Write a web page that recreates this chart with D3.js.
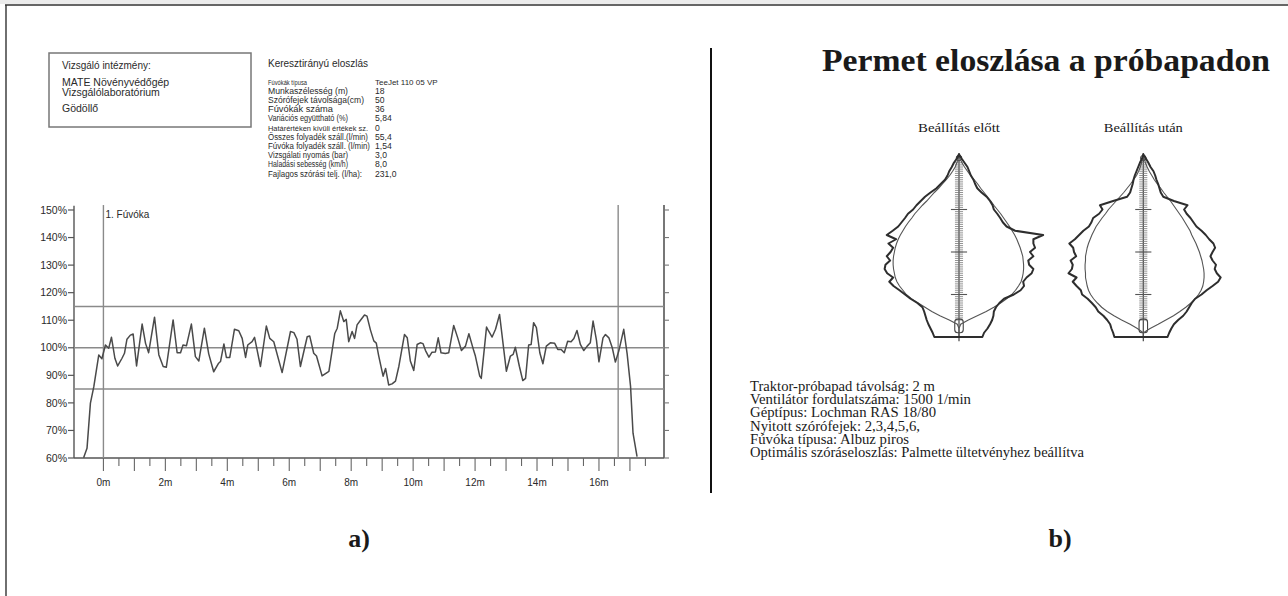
<!DOCTYPE html>
<html lang="hu">
<head>
<meta charset="UTF-8">
<title>Permet eloszlása</title>
<script src="https://cdnjs.cloudflare.com/ajax/libs/d3/7.8.5/d3.min.js"></script>
<style>
  body { margin: 0; background: #fff; }
  svg text { font-family: "Liberation Sans", Arial, sans-serif; fill: #2a2a2a; }
  svg text.serif { font-family: "Liberation Serif", "Times New Roman", serif; fill: #1a1a1a; }
</style>
</head>
<body>
<svg id="chart" width="1288" height="596"></svg>
<script>
// ---- a) cross distribution (m, %) ----
const distPos = [-0.64, -0.53, -0.42, -0.31, -0.15, -0.05, 0.065, 0.17, 0.26, 0.37, 0.46, 0.60, 0.68, 0.76, 0.87, 0.96,
  1.07, 1.25, 1.36, 1.46, 1.65, 1.79, 1.93, 2.03, 2.25, 2.38, 2.49, 2.57, 2.68, 2.84, 2.97, 3.08, 3.26, 3.40, 3.56,
  3.72, 3.78, 3.89, 3.97, 4.08, 4.23, 4.37, 4.48, 4.59, 4.66, 4.80, 4.88, 5.07, 5.26, 5.37, 5.50, 5.77, 6.04, 6.15,
  6.25, 6.36, 6.58, 6.66, 6.79, 6.88, 7.06, 7.22, 7.28, 7.47, 7.55, 7.65, 7.76, 7.84, 7.92, 8.03, 8.11, 8.19, 8.30,
  8.43, 8.51, 8.62, 8.73, 8.81, 8.89, 9.03, 9.11, 9.21, 9.32, 9.43, 9.54, 9.72, 9.81, 9.91, 10.02, 10.13, 10.23,
  10.32, 10.40, 10.51, 10.61, 10.72, 10.81, 10.90, 11.04, 11.15, 11.31, 11.44, 11.56, 11.69, 11.80, 11.96, 12.01,
  12.15, 12.20, 12.37, 12.44, 12.55, 12.66, 12.79, 13.01, 13.14, 13.23, 13.30, 13.43, 13.54, 13.63, 13.73, 13.81,
  13.89, 13.98, 14.09, 14.19, 14.30, 14.43, 14.57, 14.67, 14.78, 14.88, 14.99, 15.10, 15.19, 15.29, 15.40, 15.51,
  15.62, 15.72, 15.81, 15.92, 16.00, 16.13, 16.21, 16.32, 16.43, 16.53, 16.64, 16.80, 16.91, 17.02, 17.10, 17.23];
const distPct = [60.1, 63.5, 79.9, 85.9, 97.4, 96.0, 101.0, 99.8, 103.8, 96.2, 93.4, 96.2, 98.0, 103.1, 104.6, 105.0,
  93.4, 108.6, 101.6, 98.2, 111.1, 97.4, 93.2, 92.9, 110.1, 98.2, 98.2, 101.0, 100.7, 108.6, 96.8, 95.2, 107.1, 97.8, 91.3,
  94.4, 95.0, 101.4, 96.5, 96.5, 106.7, 106.2, 103.4, 96.5, 101.0, 102.2, 103.8, 93.2, 107.9, 103.4, 102.2, 91.0, 105.9, 105.5,
  103.1, 93.2, 104.0, 104.3, 98.0, 97.0, 89.8, 91.0, 91.4, 105.2, 107.1, 113.4, 109.5, 110.3, 102.2, 105.9, 103.4, 108.3, 110.0,
  111.9, 111.5, 106.5, 102.5, 101.7, 97.0, 89.7, 92.5, 86.5, 86.9, 87.9, 93.3, 104.8, 103.6, 95.2, 91.8, 101.2, 101.8,
  101.5, 99.0, 96.6, 98.4, 98.5, 103.6, 98.2, 97.9, 98.2, 108.1, 103.6, 99.0, 100.6, 105.1, 98.8, 97.0,
  89.7, 88.9, 107.5, 106.0, 103.9, 106.7, 112.1, 91.5, 97.0, 97.6, 100.2, 93.3, 88.1, 88.9, 101.0, 101.2,
  109.1, 107.3, 98.2, 94.2, 100.6, 101.8, 101.6, 99.4, 99.4, 98.2, 102.4, 102.2, 103.4, 106.3, 101.2, 99.0,
  100.6, 101.8, 109.7, 102.7, 94.9, 103.6, 104.8, 103.6, 100.0, 94.8, 98.8, 106.7, 97.8, 86.0, 69.0, 60.5];
const yTicks = [60, 70, 80, 90, 100, 110, 120, 130, 140, 150];
const xLabelTicks = [0, 2, 4, 6, 8, 10, 12, 14, 16];
const refLines = [115, 100, 85];
const markerPos = [0, 16.62];
const markerLabel = "1. Fúvóka";

const instituteLines = ["Vizsgáló intézmény:", "MATE Növényvédőgép", "Vizsgálólaboratórium", "Gödöllő"];
const tableTitle = "Keresztirányú eloszlás";
const infoLabels = ["Fúvókák típusa", "Munkaszélesség (m)", "Szórófejek távolsága(cm)", "Fúvókák száma",
  "Variációs együttható (%)", "Határértéken kívüli értékek sz.", "Összes folyadék száll.(l/min)",
  "Fúvóka folyadék száll. (l/min)", "Vizsgálati nyomás (bar)", "Haladási sebesség (km/h)", "Fajlagos szórási telj. (l/ha):"];
const infoValues = ["TeeJet 110 05 VP", "18", "50", "36", "5,84", "0", "55,4", "1,54", "3,0", "8,0", "231,0"];

// ---- b) vertical spray profiles (height m, offset from axis) ----
const rightTitle = "Permet eloszlása a próbapadon";
const profileNames = ["Beállítás előtt", "Beállítás után"];
const levels = [0.0, 0.1, 0.2, 0.3, 0.4, 0.5, 0.6, 0.7, 0.8, 0.9, 1.0, 1.1, 1.2, 1.3, 1.4, 1.5, 1.6, 1.7, 1.8, 1.9, 2.0, 2.1,
  2.2, 2.3, 2.4, 2.5, 2.6, 2.7, 2.8, 2.9, 3.0, 3.1, 3.2, 3.3, 3.4, 3.5, 3.6, 3.7, 3.8, 3.9, 4.0, 4.1, 4.2, 4.3];
const beforeMeasL = [-0.58, -0.62, -0.67, -0.72, -0.76, -0.79, -0.82, -0.86, -0.98, -1.14, -1.27, -1.40, -1.54, -1.64, -1.55,
  -1.69, -1.75, -1.73, -1.62, -1.70, -1.61, -1.55, -1.66, -1.48, -1.70, -1.56, -1.43, -1.35, -1.27, -1.20, -1.08, -1.00,
  -0.90, -0.80, -0.67, -0.53, -0.43, -0.33, -0.27, -0.23, -0.17, -0.12, -0.05, 0];
const beforeMeasR = [0.55, 0.59, 0.67, 0.73, 0.78, 0.81, 0.82, 0.87, 0.95, 1.06, 1.29, 1.45, 1.53, 1.51, 1.59, 1.71, 1.75,
  1.65, 1.63, 1.75, 1.67, 1.79, 1.75, 1.75, 1.98, 1.32, 1.12, 1.03, 0.97, 0.90, 0.82, 0.79, 0.73, 0.65, 0.53, 0.43,
  0.38, 0.34, 0.28, 0.24, 0.20, 0.13, 0.06, 0];
const beforeIdealL = [0, 0, 0, -0.04, -0.23, -0.45, -0.64, -0.80, -0.96, -1.12, -1.24, -1.32, -1.40, -1.46, -1.50, -1.52,
  -1.54, -1.55, -1.55, -1.54, -1.52, -1.50, -1.47, -1.43, -1.38, -1.32, -1.26, -1.19, -1.11, -1.04, -0.95, -0.86, -0.76,
  -0.67, -0.58, -0.48, -0.39, -0.30, -0.22, -0.15, -0.09, -0.05, -0.02, 0];
const beforeIdealR = [0, 0, 0, 0.04, 0.22, 0.43, 0.64, 0.82, 0.98, 1.12, 1.24, 1.33, 1.40, 1.46, 1.49, 1.51, 1.52, 1.52,
  1.51, 1.50, 1.47, 1.44, 1.40, 1.36, 1.31, 1.25, 1.19, 1.12, 1.05, 0.98, 0.90, 0.82, 0.75, 0.67, 0.59, 0.51, 0.44,
  0.36, 0.27, 0.20, 0.13, 0.07, 0.02, 0];
const afterMeasL = [-0.68, -0.71, -0.75, -0.78, -0.85, -0.94, -1.06, -1.12, -1.21, -1.31, -1.44, -1.47, -1.57, -1.66, -1.57,
  -1.76, -1.68, -1.66, -1.71, -1.58, -1.63, -1.65, -1.74, -1.61, -1.51, -1.41, -1.28, -1.22, -1.18, -1.04, -0.96, -1.02,
  -0.71, -0.38, -0.31, -0.28, -0.25, -0.23, -0.20, -0.16, -0.12, -0.08, -0.03, 0];
const afterMeasR = [0.57, 0.61, 0.66, 0.72, 0.82, 0.94, 1.02, 1.08, 1.14, 1.22, 1.37, 1.49, 1.63, 1.76, 1.82, 1.73, 1.68,
  1.71, 1.63, 1.58, 1.63, 1.69, 1.65, 1.55, 1.47, 1.37, 1.25, 1.18, 1.11, 1.02, 0.96, 1.04, 0.72, 0.47, 0.41, 0.38,
  0.35, 0.31, 0.28, 0.24, 0.17, 0.12, 0.06, 0];
const afterIdealL = [0, 0, -0.14, -0.31, -0.51, -0.69, -0.85, -0.98, -1.08, -1.17, -1.24, -1.29, -1.32, -1.34, -1.36,
  -1.36, -1.37, -1.37, -1.36, -1.36, -1.34, -1.32, -1.29, -1.25, -1.21, -1.16, -1.11, -1.04, -0.97, -0.89, -0.82,
  -0.73, -0.64, -0.55, -0.46, -0.38, -0.30, -0.23, -0.16, -0.11, -0.07, -0.04, -0.02, 0];
const afterIdealR = [0, 0, 0.16, 0.35, 0.53, 0.71, 0.86, 1.00, 1.12, 1.22, 1.30, 1.36, 1.40, 1.42, 1.43, 1.43, 1.42,
  1.40, 1.38, 1.35, 1.32, 1.28, 1.24, 1.19, 1.14, 1.10, 1.04, 0.98, 0.92, 0.85, 0.78, 0.71, 0.64, 0.56, 0.48, 0.41,
  0.33, 0.26, 0.20, 0.14, 0.09, 0.05, 0.02, 0];
const setupLines = ["Traktor-próbapad távolság: 2 m", "Ventilátor fordulatszáma: 1500 1/min", "Géptípus: Lochman RAS 18/80",
  "Nyitott szórófejek: 2,3,4,5,6,", "Fúvóka típusa: Albuz piros", "Optimális szóráseloszlás: Palmette ültetvényhez beállítva"];
const panelLabels = ["a)", "b)"];

const svg = d3.select("#chart");
svg.append("rect").attr("width", 1288).attr("height", 596).attr("fill", "#fff");

// frame and divider
svg.append("rect").attr("x", 0).attr("y", 0).attr("width", 1288).attr("height", 4).attr("fill", "#ececec");
svg.append("line").attr("x1", 5).attr("x2", 1288).attr("y1", 5).attr("y2", 5).attr("stroke", "#333").attr("stroke-width", 1.6);
svg.append("line").attr("x1", 6).attr("x2", 6).attr("y1", 5).attr("y2", 596).attr("stroke", "#333").attr("stroke-width", 1.4);
svg.append("line").attr("x1", 711).attr("x2", 711).attr("y1", 48).attr("y2", 493).attr("stroke", "#111").attr("stroke-width", 2);

// ---------- panel a) ----------
const box = svg.append("g");
box.append("rect").attr("x", 49).attr("y", 53).attr("width", 202).attr("height", 74)
  .attr("fill", "none").attr("stroke", "#777").attr("stroke-width", 1.5);
box.selectAll("text").data(instituteLines).join("text")
  .attr("x", 62).attr("y", (d, i) => [69, 86, 96, 112][i])
  .attr("font-size", (d, i) => i === 0 ? 10 : 10.5).text(d => d);

svg.append("text").attr("x", 268).attr("y", 67).attr("font-size", 10).text(tableTitle);
const rowY = d3.scaleLinear().domain([0, 10]).range([84.5, 176.5]);
const labelWidths = [39, 80, 96, 65, 80, 100, 100, 102, 80, 80, 94];
const labelSizes = [7.4, 8.4, 8.4, 8.4, 8.4, 7.7, 8.4, 8.4, 8.4, 8.4, 8.4];
svg.append("g").selectAll("text").data(infoLabels).join("text")
  .attr("x", 268).attr("y", (d, i) => rowY(i))
  .attr("font-size", (d, i) => labelSizes[i])
  .attr("textLength", (d, i) => labelWidths[i]).attr("lengthAdjust", "spacingAndGlyphs").text(d => d);
svg.append("g").selectAll("text").data(infoValues).join("text")
  .attr("x", 375).attr("y", (d, i) => rowY(i))
  .attr("font-size", (d, i) => i === 0 ? 8 : 8.6).text(d => d);

const x = d3.scaleLinear().domain([-0.95, 18.1]).range([74, 664]);
const y = d3.scaleLinear().domain([60, 150]).range([458, 210]);
const plot = svg.append("g");

// y axis left
plot.append("line").attr("x1", x(-0.95)).attr("x2", x(-0.95)).attr("y1", y(151.5)).attr("y2", y(60))
  .attr("stroke", "#555").attr("stroke-width", 1.4);
plot.selectAll(".yt").data(yTicks).join("line").attr("class", "yt")
  .attr("x1", x(-0.95) - 6).attr("x2", x(-0.95)).attr("y1", d => y(d)).attr("y2", d => y(d))
  .attr("stroke", "#555").attr("stroke-width", 1.2);
plot.selectAll(".yl").data(yTicks).join("text").attr("class", "yl")
  .attr("x", 67).attr("y", d => y(d)).attr("dy", "0.35em").attr("text-anchor", "end")
  .attr("font-size", 10.5).text(d => d + "%");

// right axis
plot.append("line").attr("x1", x(18.1)).attr("x2", x(18.1)).attr("y1", y(151.8)).attr("y2", y(60))
  .attr("stroke", "#555").attr("stroke-width", 1.6);
plot.selectAll(".rt").data(yTicks).join("line").attr("class", "rt")
  .attr("x1", x(18.1)).attr("x2", x(18.1) + 5).attr("y1", d => y(d)).attr("y2", d => y(d))
  .attr("stroke", "#777").attr("stroke-width", 1.1);

// bottom axis
const xTicks = d3.range(0, 17.51, 0.5);
plot.append("line").attr("x1", x(-0.95)).attr("x2", x(18.1)).attr("y1", y(60)).attr("y2", y(60))
  .attr("stroke", "#555").attr("stroke-width", 1.6);
plot.selectAll(".xt").data(xTicks).join("line").attr("class", "xt")
  .attr("x1", d => x(d)).attr("x2", d => x(d)).attr("y1", y(60))
  .attr("y2", d => y(60) + (Number.isInteger(d) ? 13 : 8))
  .attr("stroke", "#666").attr("stroke-width", 1.1);
plot.selectAll(".xl").data(xLabelTicks).join("text").attr("class", "xl")
  .attr("x", d => x(d)).attr("y", 486).attr("text-anchor", "middle")
  .attr("font-size", 10).text(d => d + "m");

// reference lines
plot.selectAll(".ref").data(refLines).join("line").attr("class", "ref")
  .attr("x1", x(-0.95)).attr("x2", x(18.1)).attr("y1", d => y(d)).attr("y2", d => y(d))
  .attr("stroke", "#8a8a8a").attr("stroke-width", 1.5);
plot.selectAll(".mk").data(markerPos).join("line").attr("class", "mk")
  .attr("x1", d => x(d)).attr("x2", d => x(d)).attr("y1", y(151.8)).attr("y2", y(60))
  .attr("stroke", "#8a8a8a").attr("stroke-width", 1.4);
plot.append("text").attr("x", x(0) + 2).attr("y", 218).attr("font-size", 10).text(markerLabel);

// distribution curve
const curve = distPos.map((p, i) => [p, distPct[i]]);
plot.append("path").datum(curve)
  .attr("fill", "none").attr("stroke", "#4a4a4a").attr("stroke-width", 1.5).attr("stroke-linejoin", "round")
  .attr("d", d3.line().x(d => x(d[0])).y(d => y(d[1])));

// ---------- panel b) ----------
svg.append("text").attr("class", "serif").attr("x", 822).attr("y", 71)
  .attr("font-size", 32).attr("font-weight", "bold")
  .attr("textLength", 448).attr("lengthAdjust", "spacingAndGlyphs").text(rightTitle);

const h = d3.scaleLinear().domain([0, 4.4]).range([337, 150]);
const profiles = [
  { cx: 959, name: profileNames[0], w: 82, measL: beforeMeasL, measR: beforeMeasR, idealL: beforeIdealL, idealR: beforeIdealR },
  { cx: 1143.3, name: profileNames[1], w: 79, measL: afterMeasL, measR: afterMeasR, idealL: afterIdealL, idealR: afterIdealR }
];
const ladder = d3.range(0.4, 4.11, 0.05);

profiles.forEach(p => {
  const g = svg.append("g");
  const dx = d3.scaleLinear().domain([-2, 2]).range([p.cx - 85, p.cx + 85]);
  const outline = (L, R) => {
    const pts = levels.map((lv, i) => [L[i], lv]).concat(levels.map((lv, i) => [R[i], lv]).reverse());
    return d3.line().x(d => dx(d[0])).y(d => h(d[1]))(pts) + "Z";
  };
  g.append("text").attr("class", "serif").attr("x", p.cx).attr("y", 132).attr("text-anchor", "middle")
    .attr("font-size", 13.5).attr("textLength", p.w).attr("lengthAdjust", "spacingAndGlyphs").text(p.name);

  // axis ladder
  g.append("line").attr("x1", dx(0)).attr("x2", dx(0)).attr("y1", h(4.33)).attr("y2", h(-0.1))
    .attr("stroke", "#444").attr("stroke-width", 1.2);
  g.selectAll(".mn").data(ladder).join("line").attr("class", "mn")
    .attr("x1", dx(-0.095)).attr("x2", dx(0.095)).attr("y1", d => h(d)).attr("y2", d => h(d))
    .attr("stroke", "#777").attr("stroke-width", 0.8);
  g.selectAll(".mj").data([1, 2, 3]).join("line").attr("class", "mj")
    .attr("x1", dx(-0.19)).attr("x2", dx(0.19)).attr("y1", d => h(d)).attr("y2", d => h(d))
    .attr("stroke", "#555").attr("stroke-width", 1.1);
  g.append("rect").attr("x", dx(-0.1)).attr("y", h(0.42)).attr("width", dx(0.1) - dx(-0.1))
    .attr("height", h(0.1) - h(0.42)).attr("rx", 3).attr("fill", "none").attr("stroke", "#444").attr("stroke-width", 1.1);
  g.append("circle").attr("cx", dx(0)).attr("cy", h(4.21)).attr("r", 2.8)
    .attr("fill", "none").attr("stroke", "#444").attr("stroke-width", 1);

  g.append("path").attr("d", outline(p.idealL, p.idealR))
    .attr("fill", "none").attr("stroke", "#555").attr("stroke-width", 1.1);
  g.append("path").attr("d", outline(p.measL, p.measR))
    .attr("fill", "none").attr("stroke", "#2e2e2e").attr("stroke-width", 2).attr("stroke-linejoin", "round");
});

const setupWidths = [185, 221, 186, 170, 159, 334];
svg.append("g").selectAll("text").data(setupLines).join("text").attr("class", "serif")
  .attr("x", 750).attr("y", (d, i) => 391 + i * 13.2).attr("font-size", 14)
  .attr("textLength", (d, i) => setupWidths[i]).attr("lengthAdjust", "spacingAndGlyphs").text(d => d);

svg.append("g").selectAll("text").data(panelLabels).join("text").attr("class", "serif")
  .attr("x", (d, i) => [359, 1060][i]).attr("y", 547).attr("text-anchor", "middle")
  .attr("font-size", 26).attr("font-weight", "bold").text(d => d);
</script>
</body>
</html>
